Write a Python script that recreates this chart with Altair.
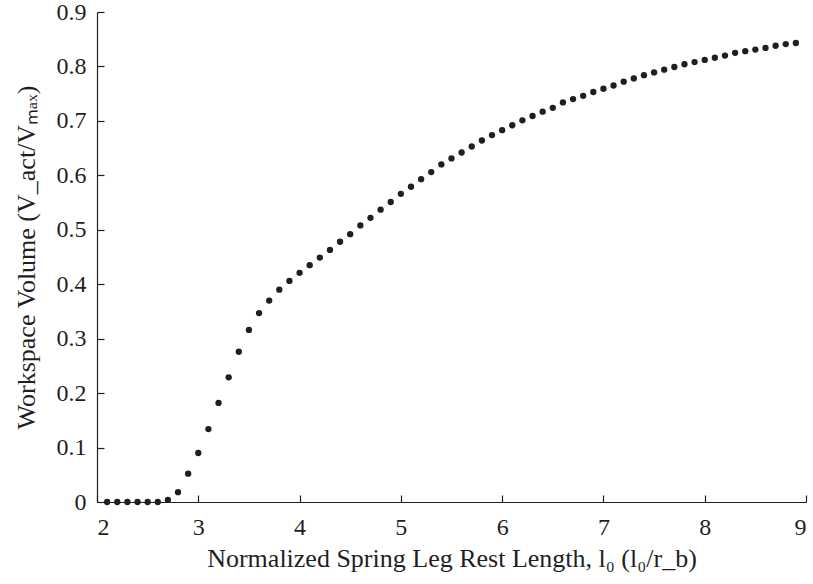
import altair as alt
import pandas as pd

# Normalized spring leg rest length l0 (l0 / r_b)
rest_length = [2.1, 2.2, 2.3, 2.4, 2.5, 2.6, 2.7, 2.8, 2.9, 3.0,
               3.1, 3.2, 3.3, 3.4, 3.5, 3.6, 3.7, 3.8, 3.9, 4.0,
               4.1, 4.2, 4.3, 4.4, 4.5, 4.6, 4.7, 4.8, 4.9, 5.0,
               5.1, 5.2, 5.3, 5.4, 5.5, 5.6, 5.7, 5.8, 5.9, 6.0,
               6.1, 6.2, 6.3, 6.4, 6.5, 6.6, 6.7, 6.8, 6.9, 7.0,
               7.1, 7.2, 7.3, 7.4, 7.5, 7.6, 7.7, 7.8, 7.9, 8.0,
               8.1, 8.2, 8.3, 8.4, 8.5, 8.6, 8.7, 8.8, 8.9]

# Workspace volume V_act / V_max
workspace_volume = [0.000, 0.000, 0.000, 0.000, 0.000, 0.000, 0.004, 0.018, 0.052, 0.090,
                    0.134, 0.182, 0.229, 0.276, 0.316, 0.347, 0.370, 0.390, 0.406, 0.421,
                    0.435, 0.449, 0.463, 0.478, 0.492, 0.508, 0.522, 0.537, 0.551, 0.566,
                    0.579, 0.593, 0.606, 0.620, 0.631, 0.642, 0.653, 0.664, 0.674, 0.683,
                    0.692, 0.701, 0.709, 0.717, 0.724, 0.734, 0.740, 0.746, 0.753, 0.759,
                    0.765, 0.772, 0.778, 0.784, 0.789, 0.794, 0.799, 0.804, 0.808, 0.812,
                    0.816, 0.820, 0.825, 0.828, 0.831, 0.834, 0.838, 0.841, 0.843]

x_ticks = [2, 3, 4, 5, 6, 7, 8, 9]
y_ticks = [0.0, 0.1, 0.2, 0.3, 0.4, 0.5, 0.6, 0.7, 0.8, 0.9]

x_title = "Normalized Spring Leg Rest Length, l\u2080 (l\u2080/r_b)"
y_title = "Workspace Volume (V_act/V\u2098\u2090\u2093)"

df = pd.DataFrame({"l0": rest_length, "v": workspace_volume})

FONT = "Liberation Serif"
INK = "#1f1f1f"

x_scale = alt.Scale(domain=[2, 9], nice=False, zero=False)
y_scale = alt.Scale(domain=[0, 0.9], nice=False, zero=True)

# Layer with domain lines, labels and titles
main = alt.Chart(df).mark_circle(size=40, color=INK, opacity=1, clip=False).encode(
    x=alt.X("l0:Q", scale=x_scale,
            axis=alt.Axis(orient="bottom", values=x_ticks, format="d", title=x_title,
                          ticks=False, tickSize=0, labelPadding=13, titlePadding=6,
                          domainColor=INK, domainWidth=1.2, grid=False,
                          labelFont=FONT, labelFontSize=24, labelColor=INK,
                          titleFont=FONT, titleFontSize=26, titleFontWeight="normal",
                          titleColor=INK)),
    y=alt.Y("v:Q", scale=y_scale,
            axis=alt.Axis(orient="left", values=y_ticks, format=".1~f", title=y_title,
                          ticks=False, tickSize=0, labelPadding=11, titlePadding=17,
                          domainColor=INK, domainWidth=1.2, grid=False,
                          labelFont=FONT, labelFontSize=24, labelColor=INK,
                          titleFont=FONT, titleFontSize=26, titleFontWeight="normal",
                          titleColor=INK)),
)

# Layer that only carries the inward-pointing tick marks
ticks = alt.Chart(df).mark_circle(size=40, color=INK, opacity=0).encode(
    x=alt.X("l0:Q", scale=x_scale,
            axis=alt.Axis(orient="bottom", values=x_ticks, offset=-7, tickSize=7,
                          tickColor=INK, tickWidth=1.2, domain=False, labels=False,
                          grid=False, title="")),
    y=alt.Y("v:Q", scale=y_scale,
            axis=alt.Axis(orient="left", values=y_ticks, offset=-7, tickSize=7,
                          tickColor=INK, tickWidth=1.2, domain=False, labels=False,
                          grid=False, title="")),
)

chart = alt.layer(main, ticks).resolve_axis(
    x="independent", y="independent"
).properties(
    width=709,
    height=490,
    autosize=alt.AutoSizeParams(type="none"),
    padding={"left": 97, "top": 12, "right": 7, "bottom": 82},
    background="white",
).configure_view(strokeWidth=0)

chart.save("out.html", embed_options={"renderer": "svg", "actions": False})
